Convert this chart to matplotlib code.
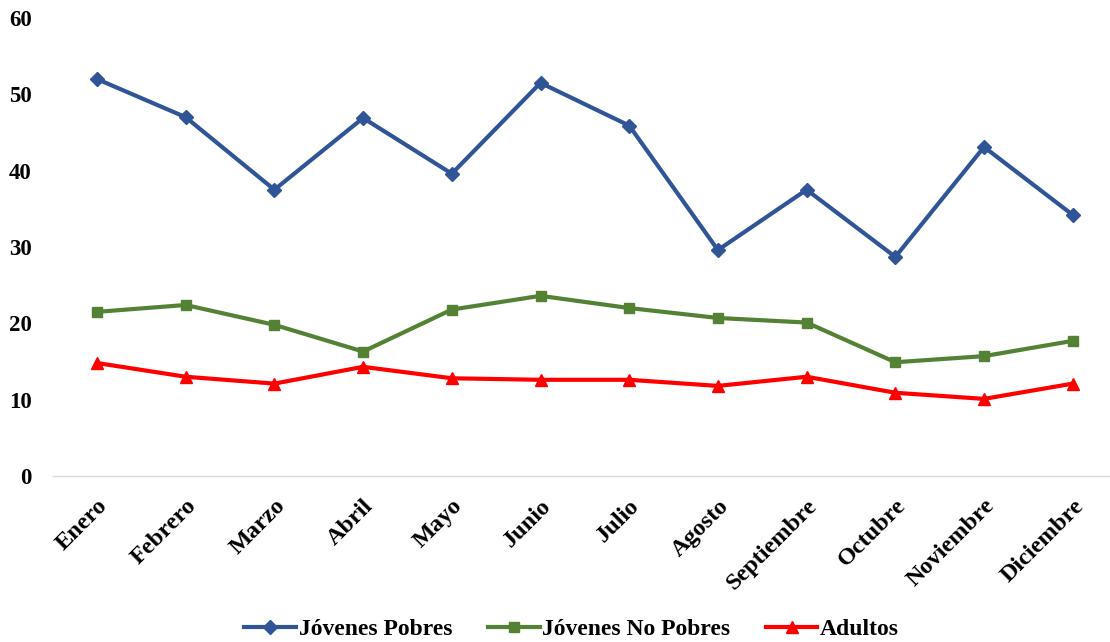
import matplotlib.pyplot as plt
import numpy as np

meses = ["Enero", "Febrero", "Marzo", "Abril", "Mayo", "Junio", "Julio",
         "Agosto", "Septiembre", "Octubre", "Noviembre", "Diciembre"]
jovenes_pobres = [52.0, 47.0, 37.5, 46.9, 39.6, 51.5, 45.9, 29.6, 37.5, 28.7, 43.1, 34.2]
jovenes_no_pobres = [21.5, 22.4, 19.8, 16.3, 21.8, 23.6, 22.0, 20.7, 20.1, 14.9, 15.7, 17.7]
adultos = [14.8, 13.0, 12.1, 14.3, 12.8, 12.6, 12.6, 11.8, 13.0, 10.9, 10.1, 12.1]

plt.rcParams["font.family"] = ["Liberation Serif", "DejaVu Serif"]
plt.rcParams["font.weight"] = "bold"

fig = plt.figure(figsize=(11.1, 6.42), dpi=100)
ax = fig.add_axes([0.0474, 0.2586, 0.9526, 0.7134])

x = np.arange(len(meses))
ax.plot(x, jovenes_pobres, color="#2F5597", marker="D", markersize=7,
        linewidth=3, label="Jóvenes Pobres")
ax.plot(x, jovenes_no_pobres, color="#548235", marker="s", markersize=7,
        linewidth=3, label="Jóvenes No Pobres")
ax.plot(x, adultos, color="#FF0000", marker="^", markersize=8,
        linewidth=3, label="Adultos")

ax.set_xlim(-0.5, 11.42)
ax.set_ylim(0, 60)
ax.set_yticks(range(0, 61, 10))
ax.set_xticks(x)
ax.set_xticklabels(meses, rotation=45, ha="right", rotation_mode="anchor",
                   fontsize=17.5, fontweight="bold")
ax.tick_params(axis="y", length=0, pad=15, labelsize=16.5)
ax.tick_params(axis="x", length=0, pad=14)

for s in ["top", "right", "left"]:
    ax.spines[s].set_visible(False)
ax.spines["bottom"].set_color("#D9D9D9")
ax.spines["bottom"].set_linewidth(1)

fig.legend(loc="center", bbox_to_anchor=(0.515, 0.02), ncol=3,
           frameon=False, fontsize=17, handlelength=2.2, columnspacing=1.5,
           handletextpad=0.1)

fig.savefig("out.png", dpi=100)
